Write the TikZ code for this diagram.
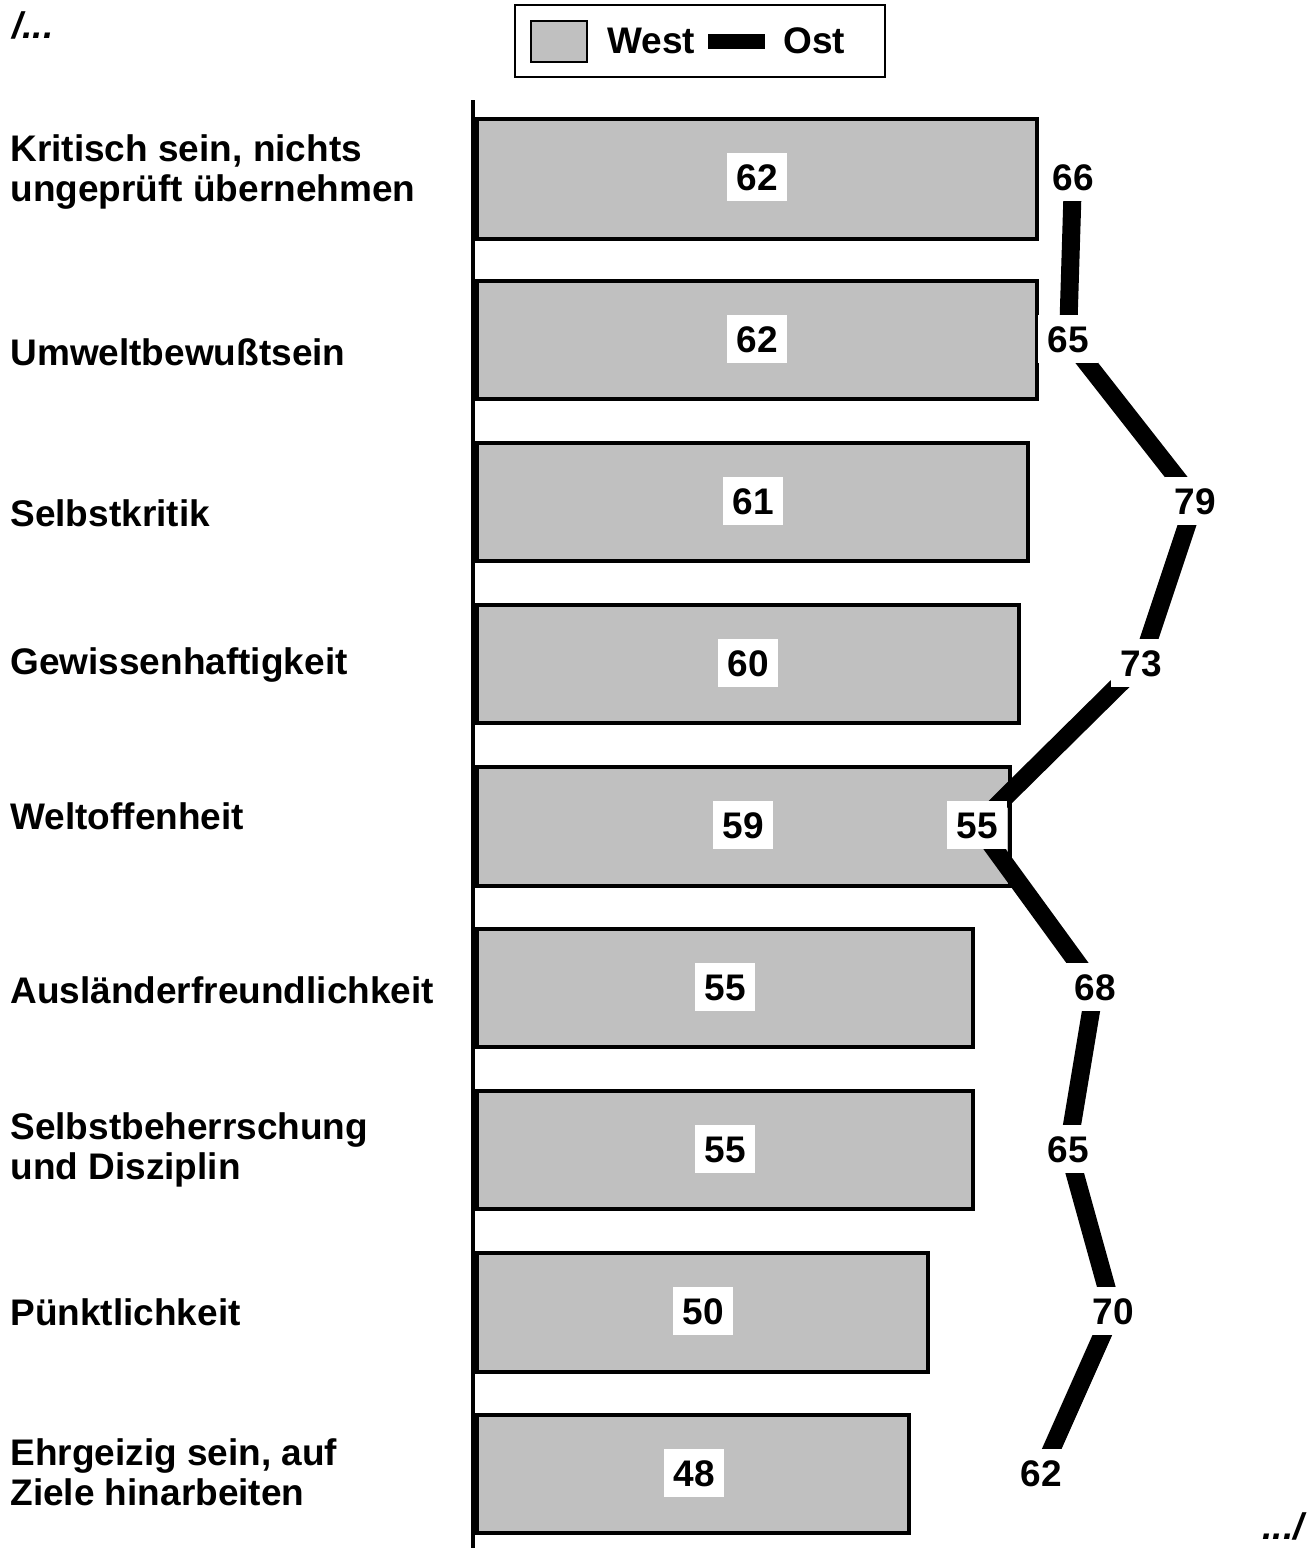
\documentclass[tikz,border=0pt]{standalone}
\usepackage{fontspec}
\setmainfont{Liberation Sans}
\usetikzlibrary{positioning}
\pgfdeclarelayer{background}
\pgfdeclarelayer{lines}
\pgfsetlayers{background,lines,main}
\definecolor{barGray}{RGB}{192,192,192}

\begin{document}
\begin{tikzpicture}[x=0.5pt,y=-0.5pt,font=\fontsize{18.5}{20}\selectfont\bfseries]
        \tikzset{bar_box/.style = {draw=black,fill=barGray,line width=2.2pt}}
        \tikzset{val_label/.style = {fill=white,inner xsep=4.5pt,inner ysep=5.5pt,text height=13pt,text depth=0pt}}
        \tikzset{cat_label/.style = {anchor=west,align=left,inner sep=0pt}}
        \tikzset{ost_line/.style = {line width=9pt,color=black,line join=miter}}

        \useasboundingbox (0,0) rectangle (1311,1548);

        % legend
        \node[draw,line width=1pt,minimum width=185pt,minimum height=36pt,inner sep=0pt] (legend) at (700,41) {};
        \draw[draw=black,fill=barGray,line width=1.2pt] (531,21) rectangle (587,62);
        \node[anchor=west,inner sep=0pt] (westtxt) at (607,41) {West};
        \node[anchor=west,inner sep=0pt] (osttxt) at (783,41) {Ost};
        \draw[line width=7.5pt] (708,41.5) -- (765,41.5);

        \node[anchor=west,inner sep=0pt,font=\fontsize{18.5}{20}\selectfont\bfseries\itshape] (contA) at (12,25) {/...};
        \node[anchor=east,inner sep=0pt,font=\fontsize{18.5}{20}\selectfont\bfseries\itshape] (contB) at (1304,1526) {.../};

        % axis and west bars
        \begin{pgfonlayer}{background}
        \draw[line width=2pt] (473,100) -- (473,1548);
        \draw[bar_box] (477,119) rectangle (1037,239);
        \draw[bar_box] (477,281) rectangle (1037,399);
        \draw[bar_box] (477,443) rectangle (1028,561);
        \draw[bar_box] (477,605) rectangle (1019,723);
        \draw[bar_box] (477,767) rectangle (1010,886);
        \draw[bar_box] (477,929) rectangle (973,1047);
        \draw[bar_box] (477,1091) rectangle (973,1209);
        \draw[bar_box] (477,1253) rectangle (928,1372);
        \draw[bar_box] (477,1415) rectangle (909,1533);
        \end{pgfonlayer}

        % categories
        \node[cat_label] (cat1) at (10,172) {Kritisch sein, nichts\\ungeprüft übernehmen};
        \node[cat_label] (cat2) at (10,352) {Umweltbewußtsein};
        \node[cat_label] (cat3) at (10,513) {Selbstkritik};
        \node[cat_label] (cat4) at (10,665) {Gewissenhaftigkeit};
        \node[cat_label] (cat5) at (10,816) {Weltoffenheit};
        \node[cat_label] (cat6) at (10,990) {Ausländerfreundlichkeit};
        \node[cat_label] (cat7) at (10,1150) {Selbstbeherrschung\\und Disziplin};
        \node[cat_label] (cat8) at (10,1312) {Pünktlichkeit};
        \node[cat_label] (cat9) at (10,1472) {Ehrgeizig sein, auf\\Ziele hinarbeiten};

        % west values
        \node[val_label] (w1) at (757,177) {62};
        \node[val_label] (w2) at (757,339) {62};
        \node[val_label] (w3) at (753,501) {61};
        \node[val_label] (w4) at (748,663) {60};
        \node[val_label] (w5) at (743,825) {59};
        \node[val_label] (w6) at (725,987) {55};
        \node[val_label] (w7) at (725,1149) {55};
        \node[val_label] (w8) at (703,1311) {50};
        \node[val_label] (w9) at (694,1473) {48};

        % ost values
        \node[val_label] (o1) at (1073,177) {66};
        \node[val_label] (o2) at (1068,339) {65};
        \node[val_label] (o3) at (1195,501) {79};
        \node[val_label] (o4) at (1141,663) {73};
        \node[val_label] (o5) at (977,825) {55};
        \node[val_label] (o6) at (1095,987) {68};
        \node[val_label] (o7) at (1068,1149) {65};
        \node[val_label] (o8) at (1113,1311) {70};
        \node[val_label] (o9) at (1041,1473) {62};

        \begin{pgfonlayer}{lines}
        \draw[ost_line] (o1.center) -- (o2.center) -- (o3.center) -- (o4.center) -- (o5.center)
            -- (o6.center) -- (o7.center) -- (o8.center) -- (o9.center);
        \end{pgfonlayer}
\end{tikzpicture}
\end{document}
